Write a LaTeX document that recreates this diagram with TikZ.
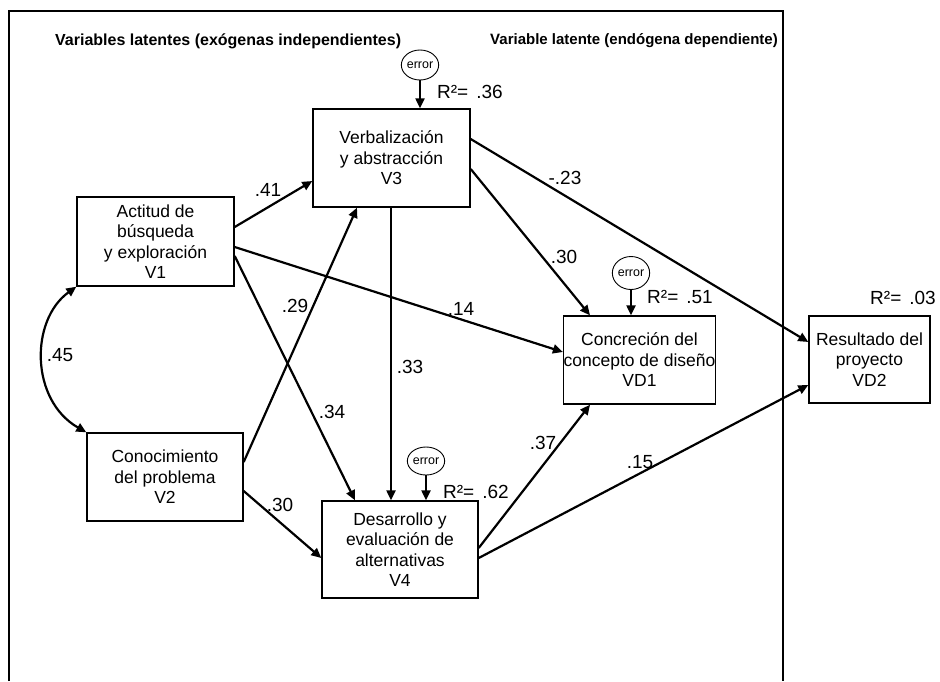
\documentclass[tikz,border=0pt]{standalone}
\usepackage{fontspec}
\setmainfont{Liberation Sans}
\usetikzlibrary{arrows.meta,shapes.geometric}
\begin{document}
\begin{tikzpicture}[x=1pt,y=-1pt,
  box/.style={draw,line width=1.4pt,rectangle,align=center,inner sep=0pt,
    font={\fontsize{17.5}{20.5}\selectfont}},
  arr/.style={line width=2.2pt,-{Triangle[length=10pt,width=9pt]}},
  errnode/.style={draw,line width=0.9pt,ellipse,inner sep=0pt,font={\fontsize{12.5}{13}\selectfont}},
  lab/.style={font={\fontsize{19}{21}\selectfont},inner sep=0pt},
  ttl/.style={font={\bfseries\fontsize{16}{18}\selectfont},inner sep=0pt}]
\useasboundingbox (0,0) rectangle (940,681);
\fill[white] (0,0) rectangle (940,681);
% frame
\draw[line width=1.3pt] (9,681) -- (9,11) -- (783,11) -- (783,681);
% titles
\node[ttl,anchor=west] (t1) at (55,41) {Variables latentes (exógenas independientes)};
\node[ttl,anchor=east,font={\bfseries\fontsize{15}{18}\selectfont}] (t2) at (778,41) {Variable latente (endógena dependiente)};
% boxes
\node[box,minimum width=157pt,minimum height=89pt] (V1) at (155.5,241.5) {Actitud de\\búsqueda\\y exploración\\V1};
\node[box,minimum width=156pt,minimum height=88pt] (V2) at (165,477) {Conocimiento\\del problema\\V2};
\node[box,minimum width=157pt,minimum height=98pt] (V3) at (391.5,158) {Verbalización\\y abstracción\\V3};
\node[box,minimum width=156pt,minimum height=97pt] (V4) at (400,549.5) {Desarrollo y\\evaluación de\\alternativas\\V4};
\node[box,minimum width=147pt,minimum height=88pt] (VD1) at (639.5,360) {Concreción del\\concepto de diseño\\VD1};
\node[box,minimum width=121pt,minimum height=87pt] (VD2) at (869.5,359.5) {Resultado del\\proyecto\\VD2};
% error nodes
\node[errnode,minimum width=30pt,minimum height=30pt] (E3) at (420,65) {error};
\node[errnode,minimum width=34pt,minimum height=33pt] (E5) at (631,273) {error};
\node[errnode,minimum width=34pt,minimum height=28pt] (E4) at (426,461) {error};
% connectors
\draw[arr] ([yshift=14.5pt]V1.east) -- ([yshift=-23pt]V3.west);
\draw[arr] ([yshift=-5.5pt]V1.east) -- ([yshift=8pt]VD1.west);
\draw[arr] ([yshift=-14.5pt]V1.east) -- ([xshift=-45pt]V4.north);
\draw[arr] ([yshift=15pt]V2.east) -- ([xshift=-34.5pt]V3.south);
\draw[arr] ([yshift=-14pt]V2.east) -- ([yshift=-8.5pt]V4.west);
\draw[arr] ([xshift=-0.5pt]V3.south) -- ([xshift=-9pt]V4.north);
\draw[arr] ([yshift=-11pt]V3.east) -- ([xshift=-49.5pt]VD1.north);
\draw[arr] ([yshift=19pt]V3.east) -- ([yshift=17.5pt]VD2.west);
\draw[arr] ([yshift=1.5pt]V4.east) -- ([xshift=-49.5pt]VD1.south);
\draw[arr] ([yshift=-8.5pt]V4.east) -- ([yshift=-25.5pt]VD2.west);
\draw[arr] (E3.south) -- ([xshift=28.5pt]V3.north);
\draw[arr] (E5.south) -- ([xshift=-8.5pt]VD1.north);
\draw[arr] (E4.south) -- ([xshift=26pt]V4.north);
\draw[line width=2.2pt,{Triangle[length=10pt,width=9pt]}-{Triangle[length=10pt,width=9pt]}]
  (V1.south west) .. controls (30,320) and (30,400) .. (V2.north west);
% labels
\node[lab] (l41) at (268,190) {.41};
\node[lab] (l14) at (461,309) {.14};
\node[lab] (l34) at (332,412) {.34};
\node[lab] (l29) at (295,306) {.29};
\node[lab] (l30a) at (280,505) {.30};
\node[lab] (l33) at (410,367) {.33};
\node[lab] (l30b) at (564,257) {.30};
\node[lab] (l23) at (565,178) {-.23};
\node[lab] (l37) at (543,443) {.37};
\node[lab] (l15) at (640,462) {.15};
\node[lab] (l45) at (60,355) {.45};
\node[lab,anchor=west] (r36) at (437,92) {R²=\hspace{8pt}.36};
\node[lab,anchor=west] (r51) at (647,297) {R²=\hspace{8pt}.51};
\node[lab,anchor=west] (r62) at (443,492) {R²=\hspace{8pt}.62};
\node[lab,anchor=west] (r03) at (870,298) {R²=\hspace{8pt}.03};
\end{tikzpicture}
\end{document}
